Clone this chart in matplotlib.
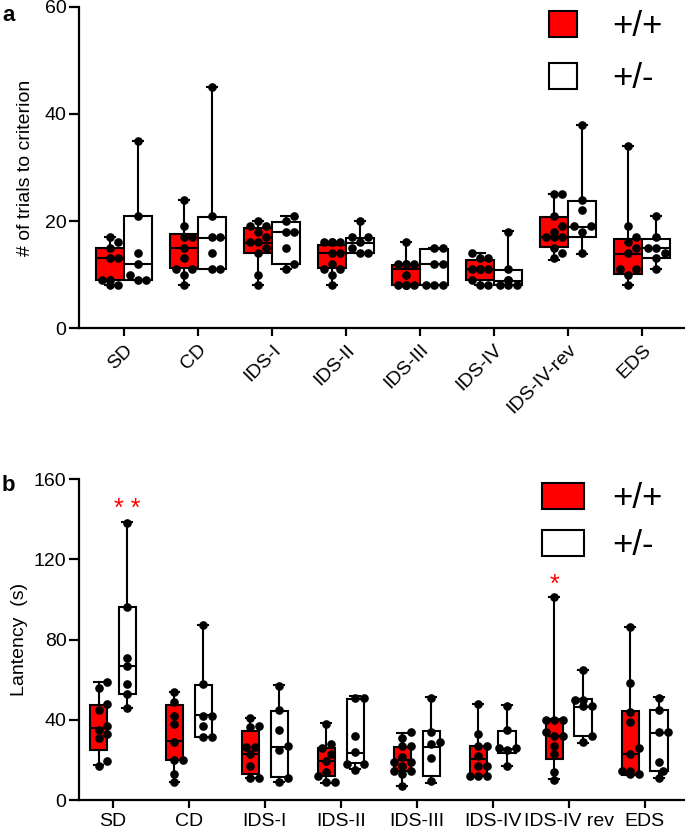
import matplotlib
matplotlib.use('Agg')
import matplotlib.pyplot as plt
import numpy as np
from matplotlib.patches import Patch

plt.rcParams['font.family'] = ['Liberation Sans', 'DejaVu Sans']

categories_a = ['SD', 'CD', 'IDS-I', 'IDS-II', 'IDS-III', 'IDS-IV', 'IDS-IV-rev', 'EDS']
categories_b = ['SD', 'CD', 'IDS-I', 'IDS-II', 'IDS-III', 'IDS-IV', 'IDS-IV rev', 'EDS']
groups = ['+/+', '+/-']

# box summaries: (min, q1, median, q3, max)
trials_wt_box = [(8, 9, 13, 15, 17), (8, 11.2, 15, 17.6, 24), (8, 14, 15.9, 18.7, 20),
                 (8, 11.2, 14, 15.6, 16), (8, 8, 11, 11.7, 16), (8, 9, 11, 12.8, 14),
                 (12.8, 15.1, 17, 20.7, 25), (8, 10, 13.9, 16.7, 34)]
trials_het_box = [(9, 9, 12, 21, 35), (11, 11, 16.8, 20.7, 45), (11, 12, 17.9, 19.8, 21),
                  (14, 14, 15.9, 16.8, 20), (8, 8, 12, 14.8, 15), (8, 8, 8.7, 10.8, 18.2),
                  (13.9, 17, 18.8, 23.7, 38), (11, 13, 15, 16.7, 21)]
trials_wt_pts = [[8, 8, 9, 9, 9, 13, 13, 15, 16, 17],
                 [8, 10, 11, 11, 13, 15, 17, 17, 19, 24],
                 [8, 10, 14, 15, 16, 16, 17, 18, 19, 19, 20],
                 [8, 10, 11, 11, 12, 14, 14, 16, 16, 16, 16],
                 [8, 8, 8, 8, 8, 10, 12, 12, 12, 12, 16],
                 [8, 8, 9, 11, 11, 11, 11, 11, 13, 13, 14],
                 [13, 14, 15, 17, 17, 17, 18, 19, 21, 25, 25],
                 [8, 10, 11, 11, 14, 15, 16, 17, 19, 34]]
trials_het_pts = [[9, 9, 10, 12, 14, 21, 35],
                  [11, 11, 14, 17, 17, 21, 45],
                  [11, 12, 15, 18, 18, 20, 21],
                  [14, 14, 15, 16, 17, 17, 20],
                  [8, 8, 8, 12, 12, 15, 15],
                  [8, 8, 8, 9, 9, 11, 18],
                  [14, 18, 19, 19, 22, 24, 38],
                  [11, 13, 14, 15, 15, 17, 21]]

latency_wt_box = [(17.3, 25, 35.8, 47.2, 58.9), (9.1, 20, 29.4, 47.2, 53.6), (10.8, 13, 22.8, 34.4, 40.7),
                  (8.3, 12, 19.5, 26.1, 38.3), (7, 14.5, 19.8, 26.4, 33.6), (12, 12, 20.3, 27, 48),
                  (10.3, 20.3, 32, 40.2, 101), (12.3, 12.3, 23.1, 44.4, 86.3)]
latency_het_box = [(46, 52.9, 66.9, 96, 138.5), (31.6, 31.6, 42.4, 57.4, 87.3), (9.1, 11.6, 26.6, 44.6, 57.4),
                   (15.3, 18.3, 23.6, 50.2, 51.6), (8.6, 12, 26.4, 34.4, 51.4), (17, 23.3, 25.6, 34.4, 47.2),
                   (28.6, 31.9, 46.6, 50.2, 64.7), (11, 14.5, 33.6, 44.9, 51.4)]
latency_wt_pts = [[17, 19.5, 31, 33, 35, 37, 45, 48, 56, 59],
                  [9, 13, 20, 20, 29, 38, 42, 49, 54],
                  [10.8, 10.8, 17, 23, 26.6, 26.6, 36.6, 37, 41],
                  [9, 9, 12, 14, 19.5, 23, 26, 28, 38],
                  [7, 13, 14.5, 14.5, 17, 19, 19, 21.5, 27, 27, 31, 34],
                  [12, 12, 12, 17, 17, 22, 27, 27, 33, 48],
                  [10, 14, 23, 27, 32, 32, 34, 40, 40, 40, 101],
                  [13, 13, 14.5, 14.5, 23, 26, 39, 44, 58.5, 86]]
latency_het_pts = [[46, 53, 58, 67, 71, 96, 138],
                   [31.6, 31.6, 37, 42, 42, 58, 87],
                   [9, 11, 25, 27, 35, 45, 57],
                   [15, 18, 18, 24, 32, 51, 51],
                   [9.5, 21, 28, 29, 34, 51],
                   [17, 25, 26, 26, 35, 47],
                   [29, 32, 47, 47, 50, 50, 65],
                   [11, 14.5, 19, 34, 34, 45, 51]]

COL_WT = '#ff0000'
COL_HET = 'white'


def swarm(ax, xc, vals, diam_px, max_px):
    trans = ax.transData
    inv = trans.inverted()
    disp = trans.transform(np.column_stack([np.full(len(vals), xc), vals]))
    order = np.argsort(disp[:, 1])
    placed = []
    out = np.zeros_like(disp)
    step = diam_px * 0.6
    for idx in order:
        x0, y0 = disp[idx]
        best = None
        for k in range(0, 30):
            for sgn in ([0] if k == 0 else [1, -1]):
                x = x0 + sgn * k * step
                if abs(x - x0) > max_px:
                    continue
                ok = all((x - px) ** 2 + (y0 - py) ** 2 >= (diam_px * 1.05) ** 2 for px, py in placed)
                if ok:
                    best = x
                    break
            if best is not None:
                break
        if best is None:
            best = x0
        placed.append((best, y0))
        out[idx] = (best, y0)
    return inv.transform(out)


def panel(ax, wt_box, het_box, wt_pts, het_pts, off, width, capw, xlim, ylim):
    ax.set_xlim(*xlim)
    ax.set_ylim(*ylim)
    n = len(wt_box)
    pos = np.arange(n)
    for box, col, sh in ((wt_box, COL_WT, -off), (het_box, COL_HET, off)):
        stats = [dict(whislo=b[0], q1=b[1], med=b[2], q3=b[3], whishi=b[4], fliers=[]) for b in box]
        ax.bxp(stats, positions=pos + sh, widths=width, patch_artist=True, showfliers=False,
               capwidths=capw,
               boxprops=dict(facecolor=col, edgecolor='black', linewidth=1.5),
               medianprops=dict(color='black', linewidth=1.5),
               whiskerprops=dict(color='black', linewidth=1.5),
               capprops=dict(color='black', linewidth=1.5), manage_ticks=False)
    for pts, sh in ((wt_pts, -off), (het_pts, off)):
        for i, vals in enumerate(pts):
            xy = swarm(ax, i + sh, np.array(vals, float), 7.0, 12.0)
            ax.plot(xy[:, 0], xy[:, 1], 'o', color='black', markersize=5.2, zorder=5, clip_on=False)
    for s in ('top', 'right'):
        ax.spines[s].set_visible(False)
    for s in ('left', 'bottom'):
        ax.spines[s].set_linewidth(1.6)
    ax.tick_params(axis='y', width=1.6, length=7, labelsize=14, pad=2)
    ax.tick_params(axis='x', width=1.6, length=6, labelsize=14)
    ax.set_xticks(pos)


fig = plt.figure(figsize=(6.85, 8.3), dpi=100)
ax1 = fig.add_axes([79 / 685, (830 - 328) / 830, 1 - 79 / 685, 321 / 830])
ax2 = fig.add_axes([79 / 685, (830 - 800) / 830, 1 - 79 / 685, 321 / 830])

panel(ax1, trials_wt_box, trials_het_box, trials_wt_pts, trials_het_pts,
      0.19, 0.38, 0.14, (-0.608, 7.58), (0, 60))
ax1.set_yticks([0, 20, 40, 60])
ax1.set_xticklabels(categories_a, rotation=45, ha='right', rotation_mode='anchor')
ax1.set_ylabel('# of trials to criterion', fontsize=14, labelpad=8)

panel(ax2, latency_wt_box, latency_het_box, latency_wt_pts, latency_het_pts,
      0.19, 0.23, 0.13, (-0.447, 7.53), (0, 160))
ax2.set_yticks([0, 40, 80, 120, 160])
ax2.set_xticklabels(categories_b)
ax2.set_ylabel('Lantency  (s)', fontsize=14, labelpad=4)

handles = [Patch(facecolor=COL_WT, edgecolor='black', linewidth=1.5),
           Patch(facecolor=COL_HET, edgecolor='black', linewidth=1.5)]
ax1.legend(handles, groups, loc='upper left', bbox_to_anchor=(0.776, 0.99), frameon=False,
           fontsize=25, handlelength=0.8, handleheight=0.78, handletextpad=1.0,
           labelspacing=0.55, borderpad=0, borderaxespad=0)
ax2.legend(handles, groups, loc='upper left', bbox_to_anchor=(0.764, 0.99), frameon=False,
           fontsize=25, handlelength=1.22, handleheight=0.78, handletextpad=0.8,
           labelspacing=0.4, borderpad=0, borderaxespad=0)

ax2.text(0.19, 145, '* *', color='red', fontsize=18, ha='center', va='center')
ax2.text(6 - 0.19, 107, '*', color='red', fontsize=18, ha='center', va='center')

fig.text(0.003, 0.975, 'a', fontsize=16, fontweight='bold')
fig.text(0.003, 0.408, 'b', fontsize=16, fontweight='bold')

fig.savefig('out.png', dpi=100)
